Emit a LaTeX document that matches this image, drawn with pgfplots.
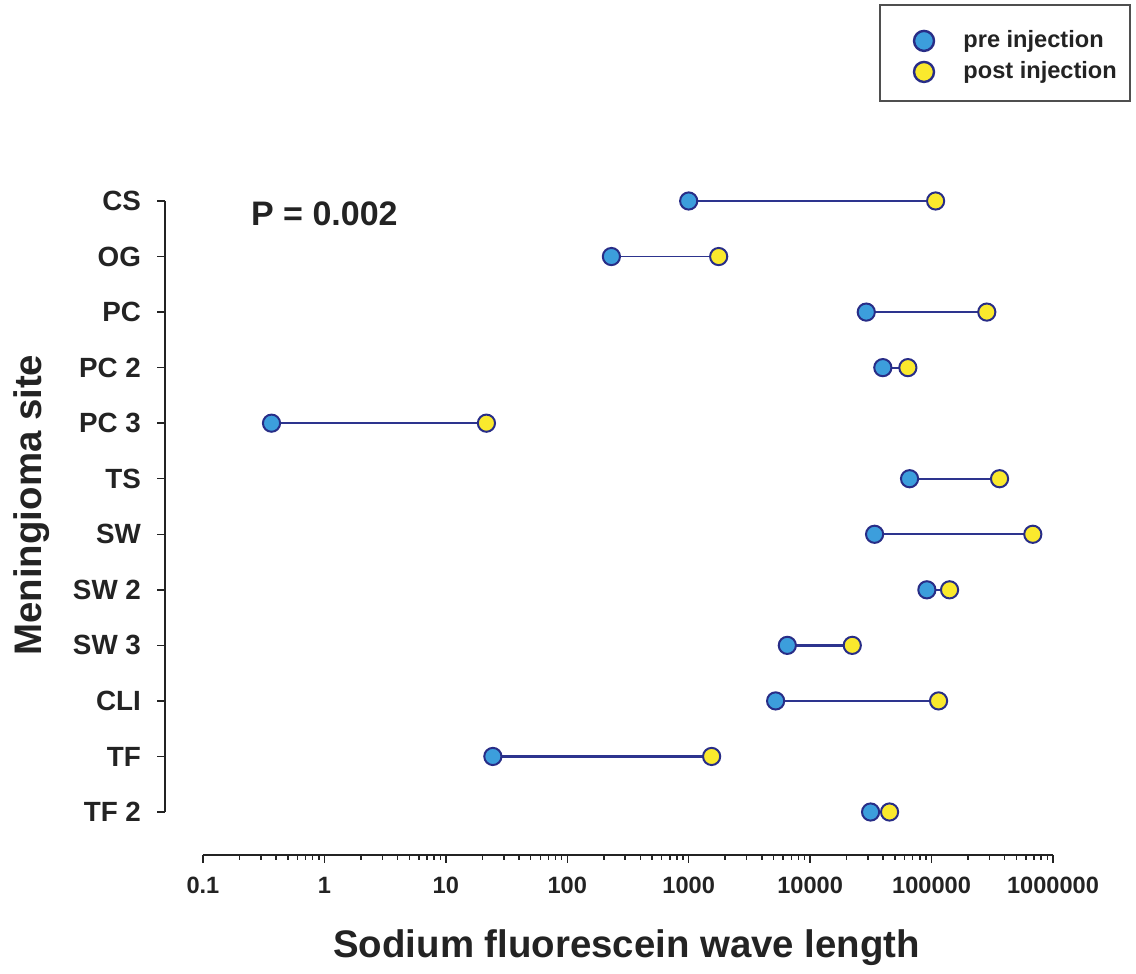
\documentclass[border=0pt]{standalone}
\usepackage{pgfplots}
\pgfplotsset{compat=1.18}
\usepackage{pgfplotstable}
\usepackage{fontspec}
\setmainfont{Liberation Sans}
\definecolor{prefill}{RGB}{60,158,220}
\definecolor{postfill}{RGB}{250,233,45}
\definecolor{edge}{RGB}{40,45,135}
\definecolor{linec}{RGB}{45,52,142}
\definecolor{axc}{RGB}{35,35,35}
\pgfplotstableread{
y pre post
12 1000 108000
11 231 1766
10 28990 285000
9 39700 63800
8 0.367 21.6
7 65900 363000
6 33960 682000
5 91500 140700
4 6490 22240
3 5200 114200
2 24.4 1545
1 31480 45100
}\datatable
\begin{document}
\begin{tikzpicture}
\useasboundingbox (-82.5pt,-59.5pt) rectangle (485.5pt,427.5pt);
\begin{axis}[
  at={(0,0)}, anchor=south west,
  scale only axis, width=444pt, height=327pt,
  xmode=log, xmin=0.0487, xmax=1e6,
  ymin=0.226, ymax=12,
  clip=false,
  axis x line=bottom, axis y line=left,
  x axis line style={-, shorten <=19pt, line width=0.75pt, color=axc},
  y axis line style={-, shorten <=21.5pt, line width=0.75pt, color=axc},
  tick align=outside,
  major tick length=4pt, minor tick length=2.5pt,
  every tick/.style={line width=0.75pt, color=axc},
  xtick={0.1,1,10,100,1000,10000,100000,1000000},
  xticklabels={0.1,1,10,100,1000,10000,100000,1000000},
  minor xtick={0.2,0.3,0.4,0.5,0.6,0.7,0.8,0.9,2,3,4,5,6,7,8,9,20,30,40,50,60,70,80,90,200,300,400,500,600,700,800,900,2000,3000,4000,5000,6000,7000,8000,9000,20000,30000,40000,50000,60000,70000,80000,90000,200000,300000,400000,500000,600000,700000,800000,900000},
  ytick={1,2,3,4,5,6,7,8,9,10,11,12},
  yticklabels={TF 2,TF,CLI,SW 3,SW 2,SW,TS,PC 3,PC 2,PC,OG,CS},
  minor ytick={},
  xticklabel style={font=\fontsize{11.8}{14}\selectfont\bfseries, color=axc, yshift=-3.5pt},
  yticklabel style={font=\fontsize{13.9}{16}\selectfont\bfseries, color=axc, xshift=-4.5pt},
  xlabel={Sodium fluorescein wave length},
  ylabel={Meningioma site},
  xlabel style={at={(axis description cs:0.52,-0.142)}, anchor=center, font=\fontsize{19.2}{23}\selectfont\bfseries, color=axc},
  ylabel style={at={(axis description cs:-0.15,0.535)}, anchor=center, font=\fontsize{19.2}{23}\selectfont\bfseries, color=axc},
  legend style={at={(1.0878,1.301)}, anchor=north east, draw=axc!80, line width=0.75pt,
    font=\fontsize{11.8}{14}\selectfont\bfseries, text=axc,
    inner xsep=4.7pt, inner ysep=7.5pt, row sep=-2pt, cells={anchor=west}},
  legend cell align=left,
  legend image code/.code={\path[draw=none,fill=none] (-17.3pt,-5pt) rectangle (17.7pt,10.5pt); \draw[#1, mark size=5pt, every mark/.append style={line width=1.2pt}] plot coordinates {(0pt,0pt)};},
]
\addplot[linec, line width=1.1pt, forget plot] coordinates {(1000,12) (108000,12)};
\addplot[linec, line width=0.9pt, forget plot] coordinates {(231,11) (1766,11)};
\addplot[linec, line width=1.3pt, forget plot] coordinates {(28990,10) (285000,10)};
\addplot[linec, line width=1.1pt, forget plot] coordinates {(39700,9) (63800,9)};
\addplot[linec, line width=1.3pt, forget plot] coordinates {(0.367,8) (21.6,8)};
\addplot[linec, line width=1.2pt, forget plot] coordinates {(65900,7) (363000,7)};
\addplot[linec, line width=0.9pt, forget plot] coordinates {(33960,6) (682000,6)};
\addplot[linec, line width=1.1pt, forget plot] coordinates {(91500,5) (140700,5)};
\addplot[linec, line width=1.3pt, forget plot] coordinates {(6490,4) (22240,4)};
\addplot[linec, line width=1.3pt, forget plot] coordinates {(5200,3) (114200,3)};
\addplot[linec, line width=1.2pt, forget plot] coordinates {(24.4,2) (1545,2)};
\addplot[linec, line width=1.2pt, forget plot] coordinates {(31480,1) (45100,1)};
\addplot[only marks, mark=*, mark size=4.3pt, mark options={fill=prefill, draw=edge, line width=1pt}] table[x=pre, y=y] {\datatable};
\addlegendentry{pre injection}
\addplot[only marks, mark=*, mark size=4.3pt, mark options={fill=postfill, draw=edge, line width=1pt}] table[x=post, y=y] {\datatable};
\addlegendentry{post injection}
\node[font=\fontsize{17}{20}\selectfont\bfseries, color=axc] at (axis cs:1,11.77) {P = 0.002};
\end{axis}
\end{tikzpicture}
\end{document}
